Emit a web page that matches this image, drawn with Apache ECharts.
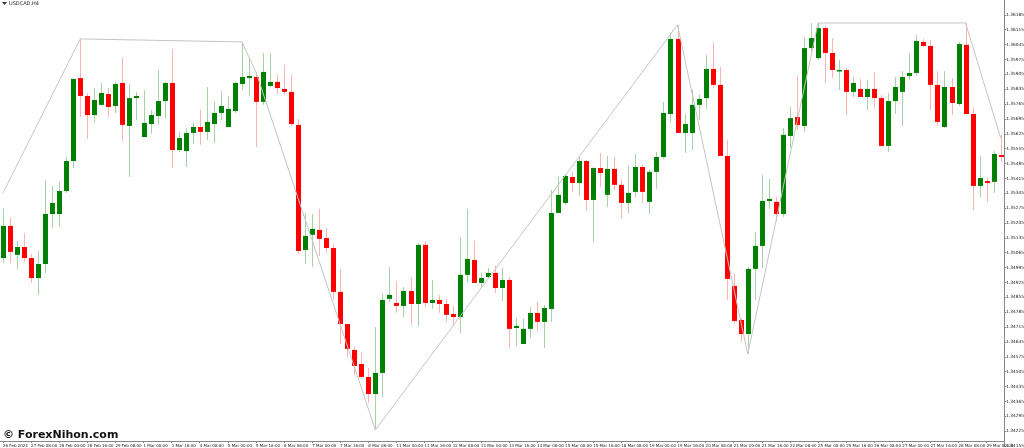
<!DOCTYPE html>
<html><head><meta charset="utf-8">
<script src="https://cdn.jsdelivr.net/npm/echarts@6/dist/echarts.min.js"></script>
<style>html,body{margin:0;padding:0;background:#fff}#c{width:1024px;height:448px}</style>
</head><body><div id="c"></div>
<script>
const opens=[1.35038,1.35189,1.35053,1.35090,1.35038,1.34944,1.35010,1.35245,1.35245,1.35353,1.35494,1.35884,1.35800,1.35710,1.35758,1.35809,1.35753,1.35861,1.35659,1.35790,1.35607,1.35668,1.35706,1.35776,1.35861,1.35546,1.35541,1.35626,1.35654,1.35631,1.35668,1.35720,1.35654,1.35729,1.35856,1.35884,1.35889,1.35772,1.35847,1.35866,1.35833,1.35819,1.35664,1.35076,1.35147,1.35170,1.35132,1.35085,1.34879,1.34728,1.34606,1.34540,1.34479,1.34399,1.34498,1.34846,1.34827,1.34813,1.34883,1.34822,1.35100,1.34827,1.34841,1.34822,1.34775,1.34761,1.34959,1.35029,1.34921,1.34949,1.34968,1.34897,1.34935,1.34709,1.34634,1.34705,1.34780,1.34738,1.34799,1.35250,1.35297,1.35419,1.35391,1.35494,1.35311,1.35461,1.35335,1.35457,1.35382,1.35297,1.35349,1.35466,1.35302,1.35443,1.35513,1.35715,1.36068,1.35626,1.35626,1.35758,1.35790,1.35927,1.35852,1.35518,1.34907,1.34747,1.34681,1.34987,1.35095,1.35306,1.35302,1.35245,1.35612,1.35701,1.35659,1.36025,1.35978,1.36119,1.36002,1.35917,1.35922,1.35819,1.35833,1.35795,1.35833,1.35790,1.35565,1.35776,1.35819,1.35894,1.35908,1.36054,1.36035,1.35852,1.35654,1.35842,1.35762,1.36040,1.35715,1.35377,1.35400,1.35396,1.35522];
const closes=[1.35189,1.35067,1.35090,1.35038,1.34944,1.35010,1.35245,1.35297,1.35353,1.35494,1.35880,1.35800,1.35710,1.35781,1.35814,1.35748,1.35856,1.35664,1.35790,1.35800,1.35673,1.35710,1.35776,1.35861,1.35546,1.35602,1.35626,1.35654,1.35631,1.35678,1.35720,1.35753,1.35739,1.35861,1.35889,1.35894,1.35772,1.35913,1.35866,1.35837,1.35819,1.35668,1.35071,1.35142,1.35175,1.35128,1.35085,1.34879,1.34728,1.34611,1.34531,1.34479,1.34399,1.34498,1.34841,1.34865,1.34813,1.34883,1.34822,1.35100,1.34827,1.34841,1.34822,1.34771,1.34761,1.34959,1.35034,1.34921,1.34944,1.34968,1.34897,1.34935,1.34705,1.34719,1.34705,1.34780,1.34738,1.34803,1.35250,1.35335,1.35424,1.35391,1.35494,1.35311,1.35461,1.35438,1.35457,1.35382,1.35297,1.35344,1.35466,1.35349,1.35443,1.35513,1.35720,1.36068,1.35626,1.35668,1.35758,1.35786,1.35927,1.35852,1.35518,1.34940,1.34742,1.34681,1.34987,1.35095,1.35306,1.35316,1.35245,1.35617,1.35696,1.35664,1.36025,1.36072,1.36119,1.36002,1.35922,1.35922,1.35819,1.35861,1.35795,1.35833,1.35790,1.35565,1.35776,1.35842,1.35889,1.35908,1.36058,1.36035,1.35852,1.35678,1.35842,1.35767,1.36044,1.35715,1.35377,1.35414,1.35391,1.35527,1.35513];
const lows=[1.35015,1.35015,1.34987,1.35020,1.34921,1.34865,1.34968,1.35179,1.35184,1.35344,1.35461,1.35701,1.35598,1.35673,1.35753,1.35701,1.35720,1.35588,1.35419,1.35687,1.35607,1.35621,1.35664,1.35696,1.35461,1.35537,1.35466,1.35574,1.35570,1.35593,1.35579,1.35687,1.35654,1.35720,1.35828,1.35800,1.35560,1.35758,1.35842,1.35809,1.35805,1.35659,1.35057,1.35010,1.34996,1.35048,1.35062,1.34841,1.34634,1.34573,1.34489,1.34474,1.34357,1.34230,1.34385,1.34832,1.34780,1.34761,1.34724,1.34719,1.34808,1.34799,1.34780,1.34738,1.34724,1.34686,1.34926,1.34921,1.34902,1.34944,1.34874,1.34836,1.34615,1.34625,1.34634,1.34662,1.34691,1.34615,1.34738,1.35250,1.35288,1.35349,1.35330,1.35259,1.35114,1.35372,1.35278,1.35358,1.35222,1.35250,1.35325,1.35297,1.35245,1.35363,1.35504,1.35673,1.35626,1.35532,1.35546,1.35687,1.35739,1.35837,1.35518,1.34841,1.34728,1.34648,1.34587,1.34841,1.34991,1.35269,1.35208,1.35231,1.35555,1.35640,1.35631,1.36007,1.35969,1.35861,1.35884,1.35828,1.35710,1.35795,1.35795,1.35734,1.35743,1.35560,1.35537,1.35715,1.35659,1.35875,1.35894,1.36030,1.35734,1.35659,1.35649,1.35710,1.35753,1.35710,1.35264,1.35325,1.35302,1.35344,1.35490];
const highs=[1.35273,1.35226,1.35118,1.35156,1.35057,1.35071,1.35405,1.35377,1.35396,1.35513,1.35880,1.36068,1.35814,1.35837,1.35861,1.35837,1.35866,1.35978,1.35856,1.35819,1.35828,1.35734,1.35922,1.35866,1.36021,1.35631,1.35649,1.35673,1.35734,1.35842,1.35776,1.35823,1.35800,1.35866,1.36054,1.35983,1.35913,1.36002,1.36002,1.35899,1.35946,1.35899,1.35692,1.35250,1.35245,1.35269,1.35179,1.35104,1.34987,1.34728,1.34620,1.34592,1.34521,1.34714,1.34874,1.34996,1.34930,1.34902,1.34949,1.35109,1.35118,1.34935,1.34865,1.34846,1.34813,1.35137,1.35269,1.35118,1.34968,1.34991,1.35001,1.34991,1.34949,1.34756,1.34752,1.34808,1.34832,1.34817,1.35358,1.35424,1.35433,1.35443,1.35513,1.35499,1.35466,1.35532,1.35518,1.35513,1.35410,1.35471,1.35527,1.35476,1.35452,1.35537,1.35772,1.36096,1.36134,1.35715,1.35828,1.35805,1.35993,1.36049,1.35936,1.35593,1.34963,1.34756,1.34996,1.35161,1.35429,1.35410,1.35325,1.35649,1.35748,1.35894,1.36077,1.36143,1.36143,1.36129,1.36072,1.35969,1.35931,1.35889,1.35880,1.35875,1.35913,1.35805,1.35814,1.35889,1.35917,1.36002,1.36086,1.36068,1.36063,1.35917,1.35917,1.35884,1.36054,1.36143,1.35748,1.35518,1.35414,1.35541,1.35617];
// zigzag turning points: [bar index, price]
const zigzag=[[0,1.35344],[11,1.36068],[34,1.36054],[36,1.35913],[53,1.34230],[96,1.36134],[106,1.34587],[116,1.36143],[137,1.36143],[142,1.35602]];
const firstLabel='26 Feb 2024';
const tickLabels=['27 Feb 08:00','28 Feb 00:00','28 Feb 16:00','29 Feb 08:00','1 Mar 00:00','1 Mar 16:00','4 Mar 08:00','5 Mar 00:00','5 Mar 16:00','6 Mar 08:00','7 Mar 00:00','7 Mar 16:00','8 Mar 08:00','11 Mar 00:00','11 Mar 16:00','12 Mar 08:00','13 Mar 00:00','13 Mar 16:00','14 Mar 08:00','15 Mar 00:00','15 Mar 16:00','18 Mar 08:00','19 Mar 00:00','19 Mar 16:00','20 Mar 08:00','21 Mar 00:00','21 Mar 16:00','22 Mar 08:00','25 Mar 00:00','25 Mar 16:00','26 Mar 08:00','27 Mar 00:00','27 Mar 16:00','28 Mar 08:00','29 Mar 00:00'];

const N=opens.length;
const cats=[];for(let i=0;i<N;i++)cats.push(String(i));
const labelOf=i=>{if(i===0)return firstLabel;if(i>=4&&(i-4)%4===0)return tickLabels[(i-4)/4]||'';return '';};
const cdata=opens.map((o,i)=>[i,o,closes[i],lows[i],highs[i]]);
const zz=new Array(N).fill(null);zigzag.forEach(p=>zz[p[0]]=p[1]);

const chart=echarts.init(document.getElementById('c'),null,{renderer:'canvas'});
chart.setOption({
  animation:false,
  grid:[{left:1,width:999.7,top:0,height:441,show:false},{left:1004,width:1,top:-1,height:448,show:false},{left:0,width:1004,top:0,height:441,show:false}],
  xAxis:[{type:'category',gridIndex:0,data:cats,boundaryGap:false,show:true,
    axisLine:{show:false},
    axisTick:{alignWithLabel:true,length:2,lineStyle:{color:'#888'},interval:(i)=>labelOf(i)!==''},
    axisLabel:{interval:(i)=>labelOf(i)!=='',showMinLabel:true,hideOverlap:false,formatter:(v)=>labelOf(+v),fontSize:4,color:'#222',align:'left',margin:3,fontFamily:'DejaVu Sans'},
    splitLine:{show:false}},
    {type:'category',gridIndex:1,data:['a'],show:false},
    {type:'category',gridIndex:2,data:['a'],axisLine:{show:true,lineStyle:{color:'#888'}},axisTick:{show:false},axisLabel:{show:false}}],
  yAxis:[{type:'value',gridIndex:0,min:1.34178,max:1.36251,show:false,splitLine:{show:false}},
    {type:'value',gridIndex:1,position:'right',min:1.34155,max:1.36255,interval:0.0007,
     axisLine:{show:true,lineStyle:{color:'#888'}},axisTick:{show:true,length:2,lineStyle:{color:'#888'}},
     axisLabel:{fontSize:4.3,color:'#222',margin:2,fontFamily:'DejaVu Sans',formatter:v=>v.toFixed(5),showMaxLabel:false},
     splitLine:{show:false}},
    {type:'value',gridIndex:2,show:false}],
  series:[
    {type:'custom',xAxisIndex:0,yAxisIndex:0,data:cdata,encode:{x:0,y:[1,2,3,4]},z:2,clip:false,
     renderItem:(params,api)=>{
       const i=api.value(0),o=api.value(1),c=api.value(2),l=api.value(3),h=api.value(4);
       const up=c>=o;
       const pO=api.coord([i,o]),pC=api.coord([i,c]),pL=api.coord([i,l]),pH=api.coord([i,h]);
       const x=Math.round(pO[0])+0.5;
       const top=Math.min(pO[1],pC[1]),ht=Math.max(1.5,Math.abs(pO[1]-pC[1]));
       return {type:'group',children:[
         {type:'line',shape:{x1:x,y1:pH[1],x2:x,y2:pL[1]},style:{stroke:up?'rgba(0,128,0,0.35)':'rgba(255,0,0,0.3)',lineWidth:1}},
         {type:'rect',shape:{x:x-2.5,y:top,width:5,height:ht},style:{fill:up?'#008000':'#ff0000'}}
       ]};
     }},
    {type:'line',xAxisIndex:0,yAxisIndex:0,data:zz,connectNulls:true,symbol:'none',z:3,clip:false,
     lineStyle:{color:'#c4c4c4',width:1}}
  ],
  graphic:[
    {type:'polygon',shape:{points:[[2,2],[7,2],[4.5,5]]},style:{fill:'#333'}},
    {type:'text',left:9,top:1,style:{text:'USDCAD,H4',fontSize:5,fill:'#222',fontFamily:'DejaVu Sans'}},
    {type:'text',left:3,top:430,style:{text:'© ForexNihon.com',fontSize:11,fontWeight:'bold',fill:'#111',fontFamily:'DejaVu Sans'}}
  ]
});
</script></body></html>
